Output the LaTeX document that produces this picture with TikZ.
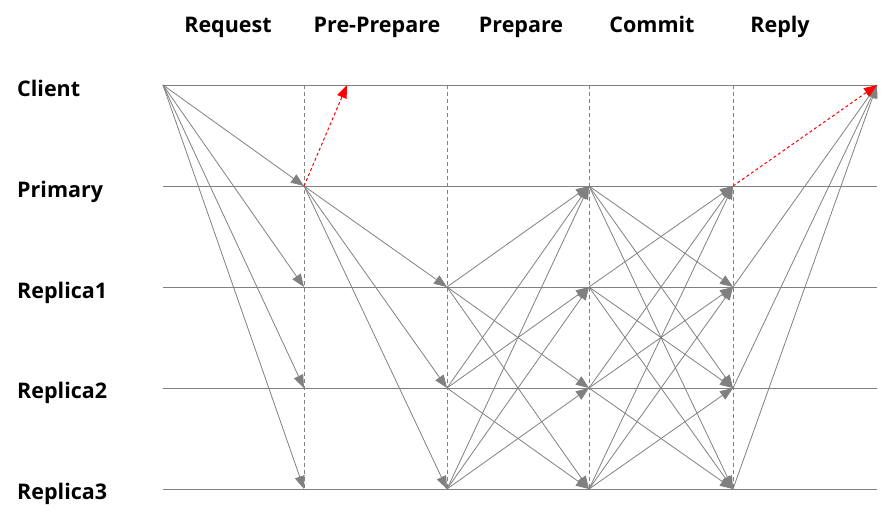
\documentclass[tikz,border=0pt]{standalone}
\usepackage{fontspec}
\setmainfont{Open Sans}
\usetikzlibrary{arrows.meta}
\definecolor{linegray}{RGB}{128,128,128}
\begin{document}
\begin{tikzpicture}[x=1pt,y=-1pt,
  lane/.style={draw=linegray,line width=1pt},
  phase/.style={draw=linegray,dash pattern=on 4pt off 3pt,line width=0.8pt},
  msg/.style={draw=linegray,line width=0.8pt,-{Triangle[length=13pt,width=10pt]}},
  fastmsg/.style={draw=red,dash pattern=on 3pt off 2.5pt,line width=1pt,-{Triangle[length=13pt,width=10pt,fill=red]}},
  phaselbl/.style={font=\fontsize{21.5}{25}\selectfont\bfseries,anchor=base,inner sep=0pt},
  rolelbl/.style={font=\fontsize{21.5}{25}\selectfont\bfseries,anchor=base west,inner sep=0pt}]
\useasboundingbox (0,0) rectangle (890,514);
% lane coordinates
\coordinate (C-start) at (163,85);
\coordinate (C-end) at (877,85);
\coordinate (C-x) at (347,85);
\foreach \r/\y in {C/85,P/186,R1/287,R2/388,R3/489}{
  \coordinate (\r-s) at (163,\y);
  \coordinate (\r-e) at (877,\y);
  \coordinate (\r-a) at (304,\y);
  \coordinate (\r-b) at (447,\y);
  \coordinate (\r-c) at (589,\y);
  \coordinate (\r-d) at (733,\y);
}
% labels
\node[phaselbl] (lreq) at (228,32) {Request};
\node[phaselbl] (lpre) at (377,32) {Pre-Prepare};
\node[phaselbl] (lprep) at (521,32) {Prepare};
\node[phaselbl] (lcom) at (652,32) {Commit};
\node[phaselbl] (lrep) at (780,32) {Reply};
\node[rolelbl] (nC) at (17,96) {Client};
\node[rolelbl] (nP) at (17,197) {Primary};
\node[rolelbl] (nR1) at (17,298) {Replica1};
\node[rolelbl] (nR2) at (17,398) {Replica2};
\node[rolelbl] (nR3) at (17,499) {Replica3};
% lanes
\foreach \r in {C,P,R1,R2,R3}{ \draw[lane] (\r-s) -- (\r-e); }
% phase separators
\foreach \k in {a,b,c,d}{ \draw[phase] (C-\k) -- (R3-\k); }
% request
\foreach \t in {P,R1,R2,R3}{ \draw[msg] (C-start) -- (\t-a); }
% pre-prepare
\foreach \t in {R1,R2,R3}{ \draw[msg] (P-a) -- (\t-b); }
\draw[fastmsg] (P-a) -- (C-x);
% prepare
\foreach \s in {R1,R2,R3}{
  \foreach \t in {P,R1,R2,R3}{
    \ifx\s\t\else \draw[msg] (\s-b) -- (\t-c); \fi
  }
}
% commit
\foreach \s in {P,R1,R2,R3}{
  \foreach \t in {P,R1,R2,R3}{
    \ifx\s\t\else \draw[msg] (\s-c) -- (\t-d); \fi
  }
}
% reply
\foreach \s in {R1,R2,R3}{ \draw[msg] (\s-d) -- (C-end); }
\draw[fastmsg] (P-d) -- (C-end);
\end{tikzpicture}
\end{document}
